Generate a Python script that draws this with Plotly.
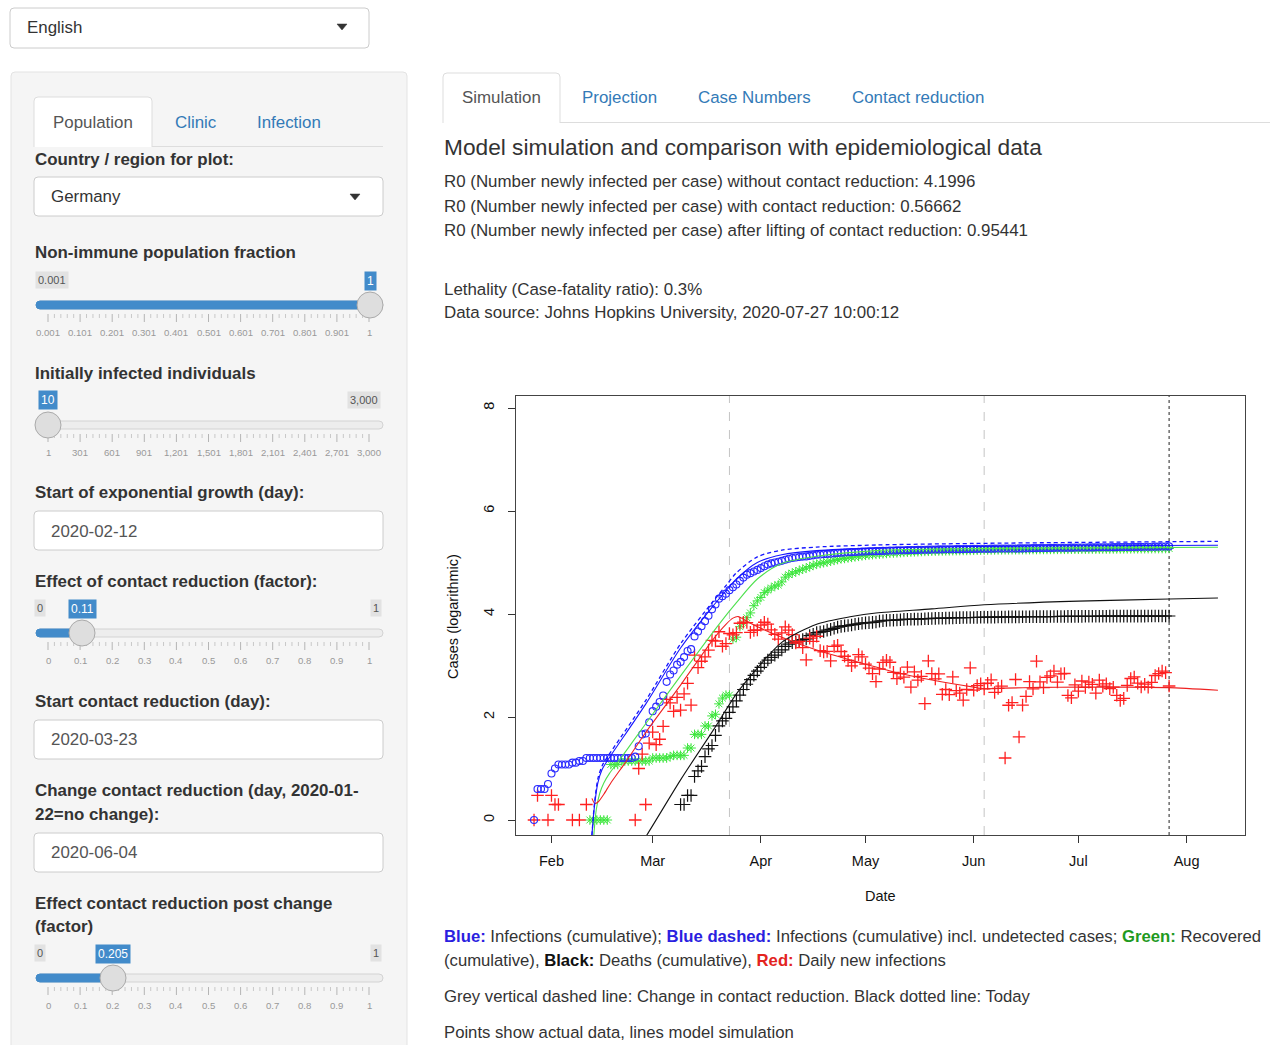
import numpy as np
import pandas as pd
import plotly.graph_objects as go

W, H = 1270, 1045
FONT = "Liberation Sans, Arial, Helvetica, sans-serif"

# ------------------------------------------------------------------
# DATA
# ------------------------------------------------------------------
first_day = "2020-01-22"

# cumulative confirmed infections (blue circles)
confirmed = [
    0, 0, 0, 0, 0, 1, 4, 4, 4, 5,
    8, 10, 12, 12, 12, 12, 13, 13, 14, 14,
    16, 16, 16, 16, 16, 16, 16, 16, 16, 16,
    16, 16, 16, 16, 17, 27, 46, 48, 79,
    130, 159, 196, 262, 482, 670, 799, 1040, 1176, 1457,
    1908, 2078, 3675, 4585, 5795, 7272, 9257, 12327, 15320, 19848,
    22213, 24873, 29056, 32986, 37323, 43938, 50871, 57695, 62095, 66885, 71808,
    77872, 84794, 91159, 96092, 100123, 103374, 107663, 113296, 118181, 122171,
    124908, 127854, 130072, 131359, 134753, 137698, 141397, 143342, 145184, 147065,
    148291, 150648, 153129, 154999, 156513, 157770, 158758, 159912, 161539, 163009,
    164077, 164967, 165664, 166152, 167007, 168162, 169430, 170588, 171324, 171879,
    172576, 173171, 174098, 174478, 175233, 175752, 176369, 176551, 177778, 178473,
    179021, 179710, 179986, 180328, 180600, 181200, 181524, 181815, 182028, 182370, 183271,
    183678, 184121, 184472, 184924, 185450, 185750, 186109, 186506, 186522, 186691,
    187226, 187267, 187518, 187682, 187764, 188252, 188604, 189817, 190299, 190670,
    190862, 191449, 192079, 192556, 193243, 193499, 193761, 194036, 194458, 194725,
    195042, 195418, 195893, 196324, 196554, 196944, 197341, 197523, 198064, 198343,
    198699, 198963, 199375, 199726, 200180, 200456, 200890, 201450, 201574, 202045,
    202426, 202799, 203325, 203717, 204183, 204881, 205609,
]

# cumulative recovered (green asterisks)
recovered = [
    0, 0, 0, 0, 0, 0, 0, 0, 0, 0,
    0, 0, 0, 0, 0, 0, 0, 0, 0, 0, 0, 1, 1, 1, 1, 1, 1, 12, 12, 12,
    14, 14, 14, 14, 14, 14, 14, 14, 14,
    16, 16, 16, 16, 16, 17, 18, 18, 18, 18,
    25, 25, 46, 46, 46, 67, 67, 105, 113, 180,
    233, 266, 266, 3243, 3547, 5673, 6658, 8481, 10500, 14500, 18000,
    21000, 26000, 29000, 32000, 35000, 36500, 42000, 52000, 58000, 62000,
    66000, 70000, 74000, 78000, 83000, 88000, 93000, 96000, 99000, 102000,
    106000, 110000, 114000, 118000, 120000, 123000, 126000, 129000, 132000, 135000,
    138000, 140000, 142000, 144000, 146000, 148000, 150000, 152000, 153000, 154500,
    155800, 157600, 158900, 160200, 161400, 162300, 163600, 164500, 165400, 166200,
    167000, 167700, 168100, 168700, 169200, 169900, 170400, 170900, 171400, 171700, 172100,
    172800, 173400, 174100, 174600, 174900, 175400, 175800, 176200, 176500, 176700,
    177000, 177200, 177400, 177600, 177800, 178100, 178400, 178600, 178800, 179000,
    179200, 179400, 179700, 180000, 180200, 180400, 180600, 180800, 181000, 181200,
    181400, 181700, 182000, 182200, 182500, 182700, 182900, 183100, 183400, 183600,
    183800, 184100, 184300, 184500, 184700, 184900, 185200, 185400, 185600, 185800,
    186000, 186200, 186500, 186700, 186900, 187100, 187400,
]

# cumulative deaths (black crosses)
deaths = [
    0, 0, 0, 0, 0, 0, 0, 0, 0, 0,
    0, 0, 0, 0, 0, 0, 0, 0, 0, 0, 0, 0, 0, 0, 0, 0, 0, 0, 0, 0,
    0, 0, 0, 0, 0, 0, 0, 0, 0,
    0, 0, 0, 0, 0, 0, 0, 0, 2, 2,
    3, 3, 7, 9, 11, 17, 24, 28, 44, 67,
    84, 94, 123, 157, 206, 267, 342, 433, 533, 645, 775,
    920, 1107, 1275, 1444, 1584, 1810, 2016, 2349, 2607, 2767,
    2871, 3022, 3194, 3294, 3804, 4052, 4352, 4459, 4586, 4862,
    5033, 5279, 5575, 5760, 5877, 5976, 6126, 6314, 6467, 6623,
    6736, 6812, 6866, 6993, 7275, 7392, 7510, 7549, 7569, 7661,
    7738, 7861, 7884, 7897, 7938, 7962, 8003, 8081, 8144, 8203,
    8228, 8261, 8283, 8309, 8372, 8428, 8470, 8504, 8530, 8540, 8555,
    8563, 8602, 8635, 8658, 8673, 8685, 8695, 8736, 8752, 8772,
    8783, 8793, 8801, 8807, 8820, 8851, 8875, 8887, 8895, 8895,
    8899, 8914, 8928, 8940, 8954, 8957, 8968, 8976, 8990, 8994,
    9003, 9010, 9020, 9024, 9026, 9036, 9057, 9063, 9070, 9078,
    9079, 9083, 9089, 9090, 9092, 9094, 9099, 9101, 9109, 9115,
    9118, 9125, 9131, 9134, 9141, 9144, 9145,
]

# daily new infections (red crosses); None = no new case that day
daily_new = [
    None, None, None, None, None, 1, 3, None, None, 1,
    3, 2, 2, None, None, None, 1, None, 1, None,
    2, None, None, None, None, None, None, None, None, None,
    None, None, None, None, 1, 10, 19, 2, 31,
    51, 29, 37, 66, 220, 188, 129, 241, 136, 281,
    451, 170, 1597, 910, 1210, 1477, 1985, 3070, 2993, 4528,
    2365, 2660, 4183, 3930, 4337, 6615, 6933, 6824, 4400, 4790, 4923,
    6064, 6922, 6365, 4933, 4031, 3251, 4289, 5633, 4885, 3990,
    2737, 2946, 2218, 1287, 3394, 2945, 3699, 1945, 1842, 1881,
    1226, 2357, 2481, 1870, 1514, 1257, 988, 1154, 1627, 1470,
    1068, 890, 697, 488, 855, 1155, 1268, 1158, 736, 555,
    697, 595, 927, 380, 755, 519, 617, 182, 1227, 695,
    548, 689, 276, 342, 272, 600, 324, 291, 213, 342, 901,
    333, 407, 443, 351, 452, 526, 300, 359, 397, 16,
    169, 190, 535, 41, 170, 251, 488, 352, 1213, 482,
    371, 587, 630, 777, 477, 687, 700, 262, 236, 422,
    317, 500, 376, 475, 431, 290, 520, 397, 441, 356,
    379, 264, 210, 230, 412, 560, 600, 454, 384, 434,
    380, 471, 640, 698, 780, 728, 400,
]

# model simulation curves (log10 values)
sim_blue_dates = ["2020-02-12 14:00", "2020-02-13 07:00", "2020-02-14 07:00", "2020-02-15 12:00",
                  "2020-02-17", "2020-02-28", "2020-03-09", "2020-03-18", "2020-03-22", "2020-03-25",
                  "2020-03-31", "2020-04-07", "2020-04-17", "2020-05-04", "2020-06-01", "2020-07-01",
                  "2020-08-10"]
sim_blue = [-0.3, 0.25, 0.72, 0.98, 1.15, 2.25, 3.34, 4.13, 4.45, 4.68, 5.00, 5.15, 5.23, 5.28,
            5.31, 5.325, 5.335]
sim_blue_dashed = [-0.3, 0.30, 0.80, 1.05, 1.22, 2.32, 3.42, 4.22, 4.55, 4.80, 5.11, 5.24, 5.30,
                   5.34, 5.37, 5.39, 5.41]

sim_green_dates = ["2020-02-13 03:00", "2020-02-13 20:00", "2020-02-14 20:00", "2020-02-16",
                   "2020-02-17 14:00", "2020-02-20", "2020-02-28", "2020-03-09", "2020-03-20",
                   "2020-03-25", "2020-03-31", "2020-04-07", "2020-04-17", "2020-05-04",
                   "2020-06-01", "2020-07-01", "2020-08-10"]
sim_green = [-0.3, 0.2, 0.52, 0.72, 0.9, 1.12, 1.87, 2.8, 3.8, 4.22, 4.68, 4.98, 5.12, 5.23,
             5.27, 5.285, 5.295]

sim_red_dates = ["2020-02-12 14:00", "2020-02-13 10:00", "2020-02-14 12:00", "2020-02-16",
                 "2020-02-18", "2020-02-22", "2020-02-28", "2020-03-09", "2020-03-18",
                 "2020-03-22", "2020-03-24", "2020-03-25 12:00", "2020-03-27", "2020-03-29",
                 "2020-04-07", "2020-04-17", "2020-04-27", "2020-05-04", "2020-05-10",
                 "2020-05-20", "2020-06-01", "2020-06-04", "2020-06-10", "2020-06-20",
                 "2020-07-01", "2020-07-15", "2020-07-27", "2020-08-10"]
sim_red = [0.42, 0.32, 0.36, 0.5, 0.72, 1.1, 1.7, 2.62, 3.48, 3.8, 3.92, 3.95, 3.9, 3.82, 3.55,
           3.3, 3.1, 2.97, 2.86, 2.72, 2.58, 2.55, 2.56, 2.575, 2.58, 2.58, 2.57, 2.52]

sim_black_dates = ["2020-02-26", "2020-02-28 08:00", "2020-03-09", "2020-03-18 10:00",
                   "2020-03-25", "2020-03-31", "2020-04-07", "2020-04-17", "2020-04-27",
                   "2020-05-04", "2020-05-20", "2020-06-04", "2020-07-01", "2020-07-27",
                   "2020-08-10"]
sim_black = [-0.52, -0.29, 0.78, 1.75, 2.45, 2.95, 3.45, 3.8, 3.95, 4.02, 4.1, 4.18, 4.25,
             4.29, 4.31]

# event dates (vertical lines)
contact_change_dates = ["2020-03-23", "2020-06-04"]
today_date = "2020-07-27"

# axis ticks
month_ticks = ["2020-02-01", "2020-03-01", "2020-04-01", "2020-05-01", "2020-06-01",
               "2020-07-01", "2020-08-01"]
month_labels = ["Feb", "Mar", "Apr", "May", "Jun", "Jul", "Aug"]
y_ticks = [0, 2, 4, 6, 8]

# slider grid labels
grid_fraction = ["0.001", "0.101", "0.201", "0.301", "0.401", "0.501", "0.601", "0.701",
                 "0.801", "0.901", "1"]
grid_infected = ["1", "301", "601", "901", "1,201", "1,501", "1,801", "2,101", "2,401",
                 "2,701", "3,000"]
grid_factor = ["0", "0.1", "0.2", "0.3", "0.4", "0.5", "0.6", "0.7", "0.8", "0.9", "1"]

# ------------------------------------------------------------------
def log10_pos(values):
    arr = np.array([np.nan if (v is None or v <= 0) else v for v in values], dtype=float)
    return np.log10(arr)


dates = pd.date_range(first_day, periods=len(confirmed), freq="D")

shapes = []
annotations = []

BODY = 16.9


def X(px):
    return px / W


def Y(py):
    return 1 - py / H


def rrect(x0, y0, x1, y1, r, fill, line="#cccccc", lw=1):
    p = (f"M{X(x0 + r)},{Y(y0)} L{X(x1 - r)},{Y(y0)} Q{X(x1)},{Y(y0)} {X(x1)},{Y(y0 + r)} "
         f"L{X(x1)},{Y(y1 - r)} Q{X(x1)},{Y(y1)} {X(x1 - r)},{Y(y1)} "
         f"L{X(x0 + r)},{Y(y1)} Q{X(x0)},{Y(y1)} {X(x0)},{Y(y1 - r)} "
         f"L{X(x0)},{Y(y0 + r)} Q{X(x0)},{Y(y0)} {X(x0 + r)},{Y(y0)} Z")
    shapes.append(dict(type="path", xref="paper", yref="paper", path=p, fillcolor=fill,
                       line=dict(color=line, width=lw)))


def tab(x0, y0, x1, y1, r=4):
    p = (f"M{X(x0)},{Y(y1)} L{X(x0)},{Y(y0 + r)} Q{X(x0)},{Y(y0)} {X(x0 + r)},{Y(y0)} "
         f"L{X(x1 - r)},{Y(y0)} Q{X(x1)},{Y(y0)} {X(x1)},{Y(y0 + r)} L{X(x1)},{Y(y1)}")
    shapes.append(dict(type="path", xref="paper", yref="paper", path=p, fillcolor="white",
                       line=dict(color="#dddddd", width=1)))


def hline(x0, x1, y, color, w=1):
    shapes.append(dict(type="line", xref="paper", yref="paper", x0=X(x0), x1=X(x1),
                       y0=Y(y), y1=Y(y), line=dict(color=color, width=w)))


def vline(x, y0, y1, color, w=1):
    shapes.append(dict(type="line", xref="paper", yref="paper", x0=X(x), x1=X(x),
                       y0=Y(y0), y1=Y(y1), line=dict(color=color, width=w)))


def circle(cx, cy, r, fill, line):
    shapes.append(dict(type="circle", xref="paper", yref="paper", x0=X(cx - r), x1=X(cx + r),
                       y0=Y(cy + r), y1=Y(cy - r), fillcolor=fill,
                       line=dict(color=line, width=1)))


def caret(cx, cy):
    p = f"M{X(cx - 5)},{Y(cy - 3)} L{X(cx + 5)},{Y(cy - 3)} L{X(cx)},{Y(cy + 3)} Z"
    shapes.append(dict(type="path", xref="paper", yref="paper", path=p, fillcolor="#333333",
                       line=dict(color="#333333", width=0.5)))


def txt(px, py, s, size=BODY, color="#333333", anchor="left", bg=None, pad=0, angle=0):
    d = dict(x=X(px), y=Y(py), xref="paper", yref="paper", text=s, showarrow=False,
             xanchor=anchor, yanchor="middle", borderpad=pad, textangle=angle,
             font=dict(size=size, color=color, family=FONT))
    if bg:
        d["bgcolor"] = bg
    annotations.append(d)


LINK = "#337ab7"
SL_BLUE = "#428bca"

# ---------------- top language selector ----------------
rrect(10, 8, 369, 48, 4, "white", "#cccccc")
txt(26, 28, "English")
caret(342, 27)

# ---------------- left well ----------------
rrect(11, 72, 407, 1060, 4, "#f5f5f5", "#e3e3e3")

# tabs
hline(34, 383, 146.5, "#dddddd")
tab(34, 97, 152, 147)
txt(93, 122, "Population", BODY, "#555555", "center")
txt(195, 122, "Clinic", BODY, LINK, "center")
txt(289, 122, "Infection", BODY, LINK, "center")

txt(34, 159, "<b>Country / region for plot:</b>")
rrect(34, 177, 383, 216, 4, "white", "#cccccc")
txt(50, 197, "Germany")
caret(355, 197)

GRID_X0, GRID_X1 = 48, 369


def slider(ty, fill_to, hx, labels):
    rrect(36, ty - 4, 383, ty + 4, 4, "#ededed", "#d3d3d3")
    rrect(36, ty - 4, max(fill_to, 44), ty + 4, 4, SL_BLUE, SL_BLUE)
    step = (GRID_X1 - GRID_X0) / 10
    for i in range(11):
        gx = GRID_X0 + i * step
        vline(gx, ty + 9, ty + 17, "#b5b5b5")
        if i < 10:
            for k in range(1, 5):
                vline(gx + k * step / 5, ty + 9, ty + 13, "#c8c8c8")
        txt(gx, ty + 27, labels[i], 9.6, "#999999", "center")
    circle(hx, ty, 13, "#dedede", "#aaaaaa")


txt(34, 253, "<b>Non-immune population fraction</b>")
txt(52, 280, "0.001", 11, "#555555", "center", "#e2e2e2", 2)
txt(370, 281, "1", 12, "white", "center", SL_BLUE, 2)
slider(305, 370, 370, grid_fraction)

txt(34, 373, "<b>Initially infected individuals</b>")
txt(48, 400, "10", 12, "white", "center", SL_BLUE, 2)
txt(364, 400, "3,000", 11, "#555555", "center", "#e2e2e2", 2)
slider(425, 48, 48, grid_infected)

txt(34, 493, "<b>Start of exponential growth (day):</b>")
rrect(34, 511, 383, 550, 4, "white", "#cccccc")
txt(50, 531, "2020-02-12", BODY, "#555555")

txt(34, 581, "<b>Effect of contact reduction (factor):</b>")
txt(40, 608, "0", 11, "#555555", "center", "#e2e2e2", 2)
txt(82, 609, "0.11", 12, "white", "center", SL_BLUE, 2)
txt(376, 608, "1", 11, "#555555", "center", "#e2e2e2", 2)
slider(633, 82, 82, grid_factor)

txt(34, 701, "<b>Start contact reduction (day):</b>")
rrect(34, 720, 383, 759, 4, "white", "#cccccc")
txt(50, 739, "2020-03-23", BODY, "#555555")

txt(34, 790, "<b>Change contact reduction (day, 2020-01-</b>")
txt(34, 814, "<b>22=no change):</b>")
rrect(34, 833, 383, 872, 4, "white", "#cccccc")
txt(50, 852, "2020-06-04", BODY, "#555555")

txt(34, 903, "<b>Effect contact reduction post change</b>")
txt(34, 926, "<b>(factor)</b>")
txt(40, 953, "0", 11, "#555555", "center", "#e2e2e2", 2)
txt(113, 954, "0.205", 12, "white", "center", SL_BLUE, 2)
txt(376, 953, "1", 11, "#555555", "center", "#e2e2e2", 2)
slider(978, 113, 113, grid_factor)

# ---------------- right side: tabs and text ----------------
hline(443, 1270, 122.5, "#dddddd")
tab(443, 73, 560, 123)
txt(501, 97, "Simulation", BODY, "#555555", "center")
txt(619.5, 97, "Projection", BODY, LINK, "center")
txt(754, 97, "Case Numbers", BODY, LINK, "center")
txt(918, 97, "Contact reduction", BODY, LINK, "center")

txt(443, 147, "Model simulation and comparison with epidemiological data", 22.7)
txt(443, 182, "R0 (Number newly infected per case) without contact reduction: 4.1996")
txt(443, 206, "R0 (Number newly infected per case) with contact reduction: 0.56662")
txt(443, 230, "R0 (Number newly infected per case) after lifting of contact reduction: 0.95441")
txt(443, 289, "Lethality (Case-fatality ratio): 0.3%")
txt(443, 313, "Data source: Johns Hopkins University, 2020-07-27 10:00:12")

BL = "#2b1fe0"
GR = "#1f9a1f"
RD = "#e3241f"
LEG = 16.7
txt(443, 936, f"<b><span style='color:{BL}'>Blue:</span></b> Infections (cumulative); "
              f"<b><span style='color:{BL}'>Blue dashed:</span></b> Infections (cumulative) incl. "
              f"undetected cases; <b><span style='color:{GR}'>Green:</span></b> Recovered", LEG)
txt(443, 960, f"(cumulative), <b><span style='color:#111'>Black:</span></b> Deaths (cumulative), "
              f"<b><span style='color:{RD}'>Red:</span></b> Daily new infections", LEG)
txt(443, 996, "Grey vertical dashed line: Change in contact reduction. Black dotted line: Today", LEG)
txt(443, 1032, "Points show actual data, lines model simulation", LEG)

# axis titles of the plot
txt(880, 896, "Date", 14.5, "#111111", "center")
txt(453, 617, "Cases (logarithmic)", 14.5, "#111111", "center", angle=-90)

# ---------------- plot ----------------
XD = [516 / W, 1245 / W]
YD = [1 - 835 / H, 1 - 396 / H]

for d in contact_change_dates:
    shapes.append(dict(type="line", xref="x", yref="paper", x0=d, x1=d, y0=YD[0], y1=YD[1],
                       layer="below", line=dict(color="#c4c4c4", width=1, dash="dash")))
shapes.append(dict(type="line", xref="x", yref="paper", x0=today_date, x1=today_date,
                   y0=YD[0], y1=YD[1], layer="below",
                   line=dict(color="#222222", width=1, dash="dot")))

fig = go.Figure()

fig.add_trace(go.Scatter(x=dates, y=log10_pos(recovered), mode="markers",
                         marker=dict(symbol="asterisk-open", size=8, color="#3de63d",
                                     line=dict(color="#3de63d", width=1))))
fig.add_trace(go.Scatter(x=dates, y=log10_pos(deaths), mode="markers",
                         marker=dict(symbol="cross-thin-open", size=9, color="#111111",
                                     line=dict(color="#111111", width=1.2))))
fig.add_trace(go.Scatter(x=dates, y=log10_pos(daily_new), mode="markers",
                         marker=dict(symbol="cross-thin-open", size=9, color="#ff2020",
                                     line=dict(color="#ff2020", width=1.3))))
fig.add_trace(go.Scatter(x=dates, y=log10_pos(confirmed), mode="markers",
                         marker=dict(symbol="circle-open", size=7, color="#2a2aff",
                                     line=dict(color="#2a2aff", width=1.1))))

line_kw = dict(mode="lines", line_shape="spline")
fig.add_trace(go.Scatter(x=sim_black_dates, y=sim_black,
                         line=dict(color="#111111", width=1.1, smoothing=0.8), **line_kw))
fig.add_trace(go.Scatter(x=sim_green_dates, y=sim_green,
                         line=dict(color="#4fe04f", width=1.1, smoothing=0.8), **line_kw))
fig.add_trace(go.Scatter(x=sim_red_dates, y=sim_red,
                         line=dict(color="#ee2222", width=1.1, smoothing=0.6), **line_kw))
fig.add_trace(go.Scatter(x=sim_blue_dates, y=sim_blue,
                         line=dict(color="#1515ff", width=1.1, smoothing=0.8), **line_kw))
fig.add_trace(go.Scatter(x=sim_blue_dates, y=sim_blue_dashed,
                         line=dict(color="#1515ff", width=1.3, dash="4px,3px", smoothing=0.8),
                         **line_kw))

fig.update_layout(
    width=W, height=H, margin=dict(l=0, r=0, t=0, b=0),
    paper_bgcolor="white", plot_bgcolor="white", showlegend=False, hovermode=False,
    font=dict(family=FONT, color="#111111"),
    xaxis=dict(type="date", domain=XD, range=["2020-01-21 20:00", "2020-08-17 18:00"],
               tickvals=month_ticks, ticktext=month_labels, ticks="outside", ticklen=7,
               tickcolor="#333333", showline=True, mirror=True, linecolor="#444444",
               linewidth=1, showgrid=False, zeroline=False, ticklabelstandoff=6,
               tickfont=dict(size=14.5, color="#111111", family=FONT)),
    yaxis=dict(domain=YD, range=[-0.291, 8.233], tickvals=y_ticks, ticks="outside",
               ticklen=7, tickcolor="#333333", tickangle=-90, showline=True, mirror=True,
               linecolor="#444444", linewidth=1, showgrid=False, zeroline=False,
               ticklabelstandoff=8, tickfont=dict(size=14.5, color="#111111", family=FONT)),
    shapes=shapes, annotations=annotations,
)

fig.write_html("out.html", config={"displayModeBar": False},
               post_script="document.body.style.margin='0px';")
